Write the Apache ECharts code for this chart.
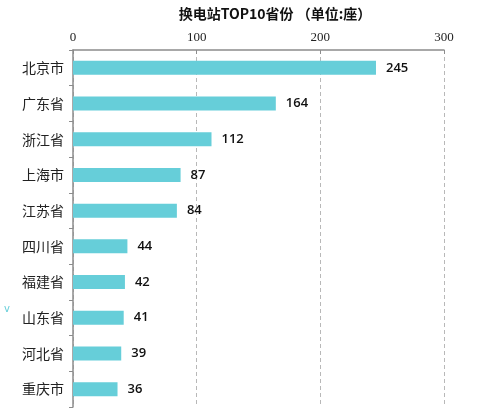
<!DOCTYPE html>
<html>
<head>
<meta charset="utf-8">
<script src="https://cdn.jsdelivr.net/npm/echarts@6/dist/echarts.min.js"></script>
<style>
html,body{margin:0;padding:0;background:#fff;}
#main{width:481px;height:420px;}
</style>
</head>
<body>
<div id="main"></div>
<script>
var provinces = ['北京市', '广东省', '浙江省', '上海市', '江苏省', '四川省', '福建省', '山东省', '河北省', '重庆市'];
var stations = [245, 164, 112, 87, 84, 44, 42, 41, 39, 36];
var xTicks = [0, 100, 200, 300];

var chart = echarts.init(document.getElementById('main'));
var option = {
    backgroundColor: '#fff',
    title: {
        text: '换电站TOP10省份 （单位:座）',
        left: 270,
        textAlign: 'center',
        top: 2,
        textStyle: {
            fontFamily: 'Noto Sans CJK SC',
            fontSize: 14,
            fontWeight: 'bold',
            color: '#111'
        }
    },
    grid: {
        left: 73,
        right: 37,
        top: 50,
        bottom: 13
    },
    xAxis: {
        type: 'value',
        position: 'top',
        min: xTicks[0],
        max: xTicks[xTicks.length - 1],
        interval: 100,
        axisLine: { show: true, lineStyle: { color: '#8c8c8c', width: 1.5 } },
        axisTick: { show: true, length: 4, inside: true, lineStyle: { color: '#8c8c8c' } },
        axisLabel: {
            fontFamily: 'Liberation Serif',
            fontSize: 13,
            color: '#222',
            margin: 6
        },
        splitLine: { show: true, lineStyle: { color: '#b8b8b8', type: [4, 3] } }
    },
    yAxis: {
        type: 'category',
        inverse: true,
        data: provinces,
        axisLine: { show: true, lineStyle: { color: '#8c8c8c', width: 1.5 } },
        axisTick: { show: true, length: 4, lineStyle: { color: '#8c8c8c' } },
        axisLabel: {
            fontFamily: 'Noto Sans CJK SC',
            fontSize: 14,
            color: '#222',
            margin: 9
        }
    },
    series: [
        {
            type: 'bar',
            data: stations,
            barWidth: 14,
            itemStyle: { color: '#66ced9' },
            label: {
                show: true,
                position: 'right',
                distance: 10,
                fontFamily: 'Open Sans',
                fontSize: 13,
                fontWeight: 600,
                color: '#111'
            }
        }
    ],
    graphic: [
        {
            type: 'text',
            left: 4,
            top: 304,
            style: { text: 'v', fill: '#66ced9', fontSize: 10, fontFamily: 'DejaVu Sans' }
        }
    ]
};
chart.setOption(option);
</script>
</body>
</html>
